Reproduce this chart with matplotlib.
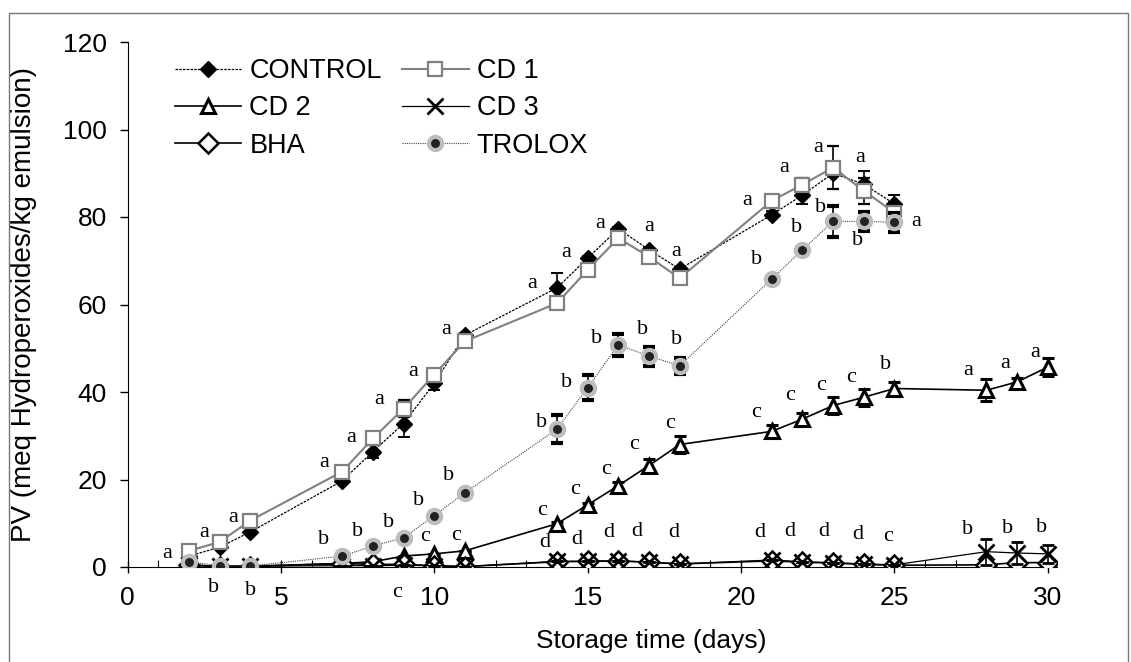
import matplotlib
matplotlib.use("Agg")
import matplotlib.pyplot as plt
from matplotlib.patches import Rectangle

plt.rcParams['font.family'] = ['Liberation Sans', 'DejaVu Sans']

# storage days
days = [2, 3, 4, 7, 8, 9, 10, 11, 14, 15, 16, 17, 18, 21, 22, 23, 24, 25]
days_long = days + [28, 29, 30]

control = [2.5, 4.5, 8.0, 19.7, 26.4, 32.8, 42.0, 53.0, 63.8, 70.6, 77.3, 72.5, 68.1, 80.5, 85.0, 90.0, 87.5, 83.0]
control_err = [0, 0, 0, 0.5, 1.5, 3.0, 1.5, 0.5, 3.5, 0.5, 0.5, 0.5, 0.5, 0.8, 2.0, 0, 3.0, 2.0]
cd1 = [3.7, 5.7, 10.6, 21.8, 29.4, 36.2, 44.0, 51.6, 60.3, 67.9, 75.2, 70.9, 66.0, 83.7, 87.4, 91.3, 86.0, 81.0]
cd1_err = [0, 0, 0, 0, 1.5, 2.0, 0.5, 0, 0, 0, 0, 0, 0, 1.0, 1.5, 5.0, 3.0, 2.5]
trolox = [1.2, 0.3, 0.2, 2.5, 4.8, 6.7, 11.7, 17.0, 31.5, 41.0, 50.8, 48.2, 46.0, 65.8, 72.5, 79.0, 79.0, 78.8]
trolox_err = [0, 0, 0, 0, 0, 0, 0, 0.6, 3.2, 2.8, 2.5, 2.2, 1.8, 0, 0, 3.5, 2.2, 2.2]
cd2 = [0.3, 0.2, 0.2, 0.8, 1.2, 2.5, 3.0, 3.7, 9.9, 14.2, 18.6, 23.2, 28.0, 31.0, 33.8, 36.9, 38.8, 40.8, 40.4, 42.3, 45.7]
cd2_err = [0, 0, 0, 0, 0, 0, 0, 0, 0.5, 0.5, 0.8, 1.5, 2.0, 1.5, 1.5, 2.0, 2.0, 1.5, 2.5, 0.8, 2.0]
cd3 = [0.5, 0.2, 0.2, 0.3, 0.3, 0.4, 0.3, 0.1, 1.3, 1.3, 1.4, 1.1, 0.7, 1.6, 1.2, 1.0, 0.7, 0.5, 3.5, 3.2, 3.0]
cd3_err = [0.4, 0.4, 0.4, 0, 0, 0, 0, 0, 0, 0, 0, 0, 0, 0, 0, 0, 0, 0, 3.0, 2.5, 2.0]
bha = [0.5, 0.1, 0.1, 0.8, 0.6, 0.6, 0.3, 0.1, 1.2, 1.3, 1.4, 1.1, 0.7, 1.4, 1.1, 0.9, 0.6, 0.4, 0.5, 1.0, 1.0]

# small marks along the baseline (days without samples)
base_days = [1, 5, 6, 12, 13, 19, 20, 26, 27]
base_vals = [0.3, 0.3, 0.3, 0.3, 0.3, 0.3, 0.3, 0.3, 0.3]

# significance letters: (x, y, letter)
letters = [
    (1.3, 3.2, 'a'), (2.5, 7.8, 'a'), (3.45, 11.4, 'a'), (6.4, 23.8, 'a'), (7.3, 29.7, 'a'),
    (8.2, 38.2, 'a'), (9.3, 44.8, 'a'), (10.4, 54.4, 'a'), (13.2, 64.7, 'a'), (14.3, 71.8, 'a'),
    (15.4, 78.6, 'a'), (17.0, 77.9, 'a'), (17.9, 72.2, 'a'), (20.2, 83.7, 'a'), (21.4, 91.4, 'a'),
    (22.5, 95.8, 'a'), (23.9, 93.7, 'a'), (25.7, 78.9, 'a'),
    (2.8, -4.6, 'b'), (4.0, -5.3, 'b'), (6.4, 6.4, 'b'), (7.5, 8.0, 'b'), (8.5, 10.1, 'b'),
    (9.5, 15.3, 'b'), (10.45, 21.0, 'b'), (13.5, 33.1, 'b'), (14.3, 42.1, 'b'), (15.3, 52.3, 'b'),
    (16.8, 54.4, 'b'), (17.9, 51.9, 'b'), (20.5, 70.2, 'b'), (21.8, 77.5, 'b'), (22.6, 82.1, 'b'),
    (23.8, 74.7, 'b'),
    (8.8, -5.9, 'c'), (9.7, 6.9, 'c'), (10.7, 7.3, 'c'), (13.5, 13.0, 'c'), (14.6, 17.6, 'c'),
    (15.6, 22.2, 'c'), (16.5, 27.9, 'c'), (17.7, 32.9, 'c'), (20.5, 35.4, 'c'), (21.6, 39.3, 'c'),
    (22.6, 41.6, 'c'), (23.6, 43.4, 'c'), (24.7, 46.2, 'b'), (27.4, 45.0, 'a'), (28.6, 46.6, 'a'),
    (29.6, 49.0, 'a'),
    (13.6, 5.5, 'd'), (14.65, 6.2, 'd'), (15.7, 7.8, 'd'), (16.6, 8.0, 'd'), (17.8, 7.8, 'd'),
    (20.6, 7.8, 'd'), (21.6, 8.0, 'd'), (22.7, 8.0, 'd'), (23.8, 7.5, 'd'), (24.8, 6.9, 'c'),
    (27.4, 8.5, 'b'), (28.7, 8.9, 'b'), (29.8, 9.1, 'b'),
]

fig = plt.figure(figsize=(11.31, 6.62), dpi=100)
ax = fig.add_axes([127.5 / 1131, 1 - 567 / 662, 929.5 / 1131, 525 / 662])

ecol = dict(ecolor='black', elinewidth=1.2, capsize=4, capthick=1.4)

ax.plot(base_days, base_vals, ls='none', marker='|', ms=8, color='black', mew=0.8, zorder=2)

series = []
series.append(ax.errorbar(days, control, yerr=control_err, color='black', ls=(0, (2, 1)), lw=0.9, marker='D', ms=8,
                          mfc='black', mec='black', zorder=3, **ecol))
series.append(ax.errorbar(days, cd1, yerr=cd1_err, color='#808080', ls='-', lw=1.5, marker='s', ms=10.5, mfc='white',
                          mec='#808080', mew=1.6, zorder=4, **ecol))
series.append(ax.errorbar(days_long, cd2, yerr=cd2_err, color='black', ls='-', lw=1.2, marker='^', ms=10.5, mfc='white',
                          mec='black', mew=2.2, zorder=4, **ecol))
series.append(ax.errorbar(days_long, cd3, yerr=cd3_err, color='black', ls='-', lw=0.9, marker='x', ms=11, mew=2.0,
                          zorder=6, **ecol))
series.append(ax.errorbar(days_long, bha, color='black', ls='-', lw=1.2, marker='D', ms=10, mfc='white',
                          mec='black', mew=1.8, zorder=5))
series.append(ax.errorbar(days, trolox, yerr=trolox_err, color='#444444', ls=(0, (1, 1)), lw=0.8, marker='o', ms=9.5,
                          mfc='#222222', mec='#bdbdbd', mew=3, zorder=7, **ecol))
names = ['CONTROL', 'CD 1', 'CD 2', 'CD 3', 'BHA', 'TROLOX']

for x, y, s in letters:
    ax.text(x, y, s, family='Liberation Serif', fontsize=16, ha='center', va='center', clip_on=False)

ax.set_xlim(0, 30.3)
ax.set_ylim(0, 120)
ax.set_xticks([0, 5, 10, 15, 20, 25, 30])
ax.set_yticks([0, 20, 40, 60, 80, 100, 120])
ax.tick_params(axis='y', direction='out', length=6, width=1, labelsize=19, pad=9)
ax.tick_params(axis='x', direction='inout', length=8, width=1, labelsize=19, pad=10)
ax.spines['top'].set_visible(False)
ax.spines['right'].set_visible(False)

ax.set_xlabel('Storage time (days)', fontsize=19)
ax.xaxis.set_label_coords(0.564, -0.118)
ax.set_ylabel('PV (meq Hydroperoxides/kg emulsion)', fontsize=20)
ax.yaxis.set_label_coords(-0.097, 0.5)

order = [0, 2, 4, 1, 3, 5]
ax.legend([series[i][0] for i in order], [names[i] for i in order], ncol=2, loc='upper left', frameon=False,
          bbox_to_anchor=(175 / 1131, 1 - 58 / 662), bbox_transform=fig.transFigure,
          fontsize=19.5, handlelength=2.45, handletextpad=0.3, labelspacing=0.42, columnspacing=0.75,
          borderpad=0, borderaxespad=0)

fig.patches.append(Rectangle((9 / 1131, -0.01), 1119 / 1131, 1 - 13 / 662 + 0.01, transform=fig.transFigure,
                             fill=False, edgecolor='#777777', lw=1))

fig.savefig('out.png', dpi=100)
